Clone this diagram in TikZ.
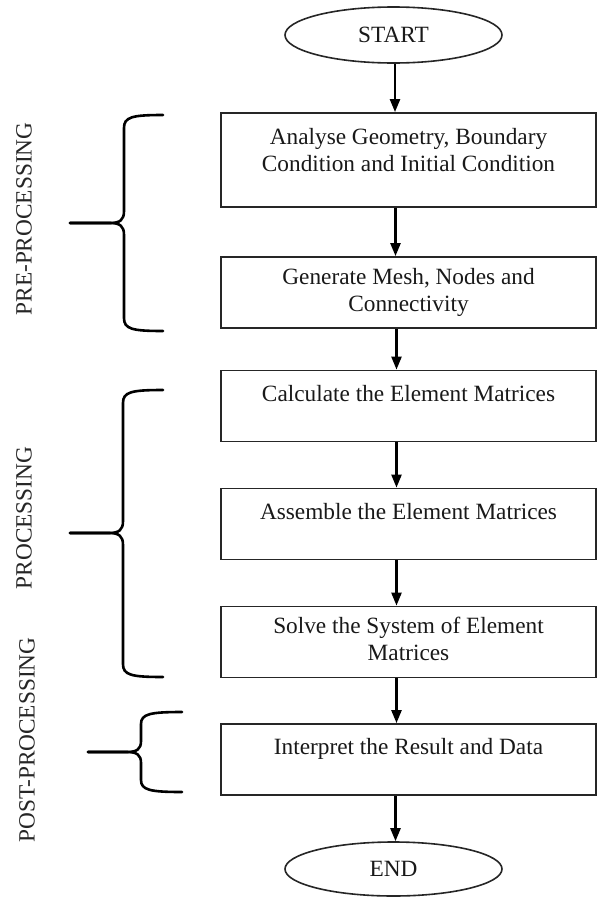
\documentclass[tikz,border=0pt]{standalone}
\usepackage{fontspec}
\setmainfont{Liberation Serif}
\usetikzlibrary{shapes.geometric,arrows.meta}
\begin{document}
\begin{tikzpicture}[x=1pt,y=-1pt,
  font=\fontsize{23.3}{27}\selectfont,
  stepbox/.style={draw=black!85, line width=1.8pt, minimum width=375pt, minimum height=71pt, inner sep=0pt, align=center, text=black!90},
  oval/.style={ellipse, draw=black!85, line width=1.6pt, minimum width=217pt, minimum height=56pt, inner sep=0pt, text=black!90},
  arr/.style={line width=2.4pt, -{Triangle[length=13pt,width=10pt]}},
  brc/.style={line width=2.6pt, line cap=round},
  side/.style={rotate=90, inner sep=0pt, text=black!85}
]
\fill[white] (0,0) rectangle (600,897);
\useasboundingbox (0,0) rectangle (600,897);

\node[oval] (start) at (393.5,35) {START};
\node[stepbox, minimum height=94pt] (b1) at (408.5,160) {\strut Analyse Geometry, Boundary\\\strut Condition and Initial Condition\\[-12.6pt]\strut};
\node[stepbox] (b2) at (408.5,292.5) {\strut Generate Mesh, Nodes and\\\strut Connectivity};
\node[stepbox] (b3) at (408.5,406) {\strut Calculate the Element Matrices\\[-7pt]\strut};
\node[stepbox] (b4) at (408.5,524) {\strut Assemble the Element Matrices\\[-7pt]\strut};
\node[stepbox] (b5) at (408.5,642) {\strut Solve the System of Element\\\strut Matrices};
\node[stepbox] (b6) at (408.5,759.5) {\strut Interpret the Result and Data\\[-7pt]\strut};
\node[oval, minimum height=54pt] (end) at (393.5,869) {END};

\draw[arr] ([xshift=1.5pt]start.south) -- ([xshift=1.5pt]start.south |- b1.north);
\draw[arr] ([xshift=-13pt]b1.south) -- ([xshift=-13pt]b2.north);
\draw[arr] ([xshift=-12pt]b2.south) -- ([xshift=-12pt]b3.north);
\draw[arr] ([xshift=-12pt]b3.south) -- ([xshift=-12pt]b4.north);
\draw[arr] ([xshift=-12pt]b4.south) -- ([xshift=-12pt]b5.north);
\draw[arr] ([xshift=-12pt]b5.south) -- ([xshift=-12pt]b6.north);
\draw[arr] ([xshift=-13pt]b6.south) -- ([xshift=-13pt]b6.south |- end.north);

% braces
\draw[brc] (163,115) .. controls (132,115) and (124,117) .. (124,128) -- (124,211)
  .. controls (124,220) and (120,223) .. (110,223) -- (70,223);
\draw[brc] (70,223) -- (110,223) .. controls (120,223) and (124,226) .. (124,235)
  -- (124,318) .. controls (124,329) and (132,331) .. (163,331);

\draw[brc] (163,390) .. controls (131,390) and (123,392) .. (123,403) -- (123,521)
  .. controls (123,530) and (119,533) .. (109,533) -- (70,533);
\draw[brc] (70,533) -- (109,533) .. controls (119,533) and (123,536) .. (123,545)
  -- (123,664) .. controls (123,675) and (131,677) .. (163,677);

\draw[brc] (182,712) .. controls (150,712) and (141,714) .. (141,724) -- (141,741)
  .. controls (141,749) and (137,752) .. (127,752) -- (88,752);
\draw[brc] (88,752) -- (127,752) .. controls (137,752) and (141,755) .. (141,763)
  -- (141,780) .. controls (141,790) and (150,792) .. (182,792);

\node[side] (pre) at (24,219) {PRE-PROCESSING};
\node[side] (proc) at (24,518) {PROCESSING};
\node[side] (post) at (27,740) {POST-PROCESSING};
\end{tikzpicture}
\end{document}
